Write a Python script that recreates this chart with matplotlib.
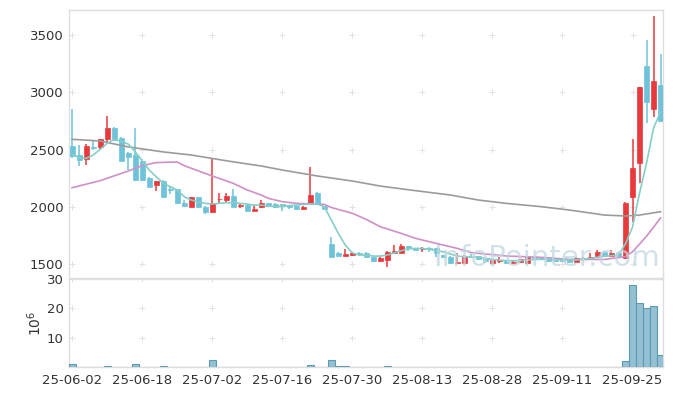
import numpy as np
import matplotlib
matplotlib.use("Agg")
import matplotlib.pyplot as plt

# ---------------- data ----------------
date_labels = ["25-06-02", "25-06-18", "25-07-02", "25-07-16", "25-07-30",
               "25-08-13", "25-08-28", "25-09-11", "25-09-25"]
label_days = [0, 10, 20, 30, 40, 50, 60, 70, 80]

opens = [2531, 2453, 2415, 2525, 2526, 2590, 2691, 2604, 2473, 2453,
         2400, 2255, 2190, 2226, 2155, 2156, 2031, 2002, 2083, 2002,
         1952, 2066, 2060, 2095, 2005, 2016, 1967, 1996, 2031, 2025,
         2025, 2016, 2011, 1985, 2022, 2124, 2005, 1676, 1600, 1575,
         1580, 1595, 1595, 1560, 1531, 1537, 1600, 1600, 1659, 1644,
         1630, 1638, 1638, 1580, 1566, 1508, 1513, 1571, 1571, 1551,
         1510, 1530, 1531, 1508, 1516, 1513, 1560, 1553, 1551, 1533,
         1551, 1542, 1522, 1550, 1542, 1560, 1609, 1571, 1600, 1552,
         2084, 2386, 3229, 2852, 3064]
highs = [2854, 2540, 2549, 2585, 2595, 2793, 2695, 2610, 2476, 2691,
         2420, 2262, 2230, 2232, 2176, 2160, 2060, 2088, 2086, 2005,
         2430, 2118, 2118, 2153, 2031, 2020, 2016, 2060, 2035, 2030,
         2028, 2020, 2014, 2005, 2345, 2126, 2008, 1734, 1603, 1630,
         1609, 1609, 1609, 1562, 1560, 1618, 1668, 1676, 1662, 1646,
         1647, 1653, 1640, 1583, 1568, 1595, 1580, 1589, 1574, 1553,
         1540, 1560, 1533, 1525, 1545, 1565, 1563, 1560, 1553, 1540,
         1553, 1545, 1566, 1560, 1595, 1624, 1612, 1624, 1603, 2040,
         2590, 3050, 3456, 3666, 3334]
lows = [2430, 2357, 2363, 2497, 2497, 2555, 2580, 2400, 2322, 2230,
        2225, 2170, 2142, 2080, 2113, 2028, 1996, 1998, 1993, 1938,
        1950, 2031, 2031, 2000, 1990, 1965, 1965, 1994, 2008, 1995,
        1967, 1979, 1982, 1973, 2020, 2020, 1982, 1566, 1571, 1570,
        1571, 1574, 1563, 1522, 1525, 1478, 1595, 1598, 1618, 1624,
        1609, 1609, 1566, 1557, 1505, 1505, 1510, 1551, 1540, 1508,
        1505, 1508, 1505, 1500, 1513, 1510, 1540, 1540, 1520, 1520,
        1528, 1519, 1519, 1540, 1540, 1557, 1568, 1568, 1568, 1550,
        1871, 2211, 2730, 2787, 2740]
closes = [2444, 2409, 2531, 2518, 2590, 2691, 2584, 2403, 2438, 2235,
          2235, 2176, 2226, 2083, 2150, 2031, 2005, 2083, 1996, 1955,
          2031, 2068, 2095, 2002, 2020, 1967, 1985, 2037, 2011, 1998,
          2011, 1998, 1985, 2002, 2104, 2022, 1985, 1566, 1575, 1589,
          1600, 1592, 1566, 1531, 1551, 1603, 1618, 1659, 1638, 1627,
          1635, 1630, 1600, 1560, 1508, 1522, 1571, 1568, 1545, 1525,
          1537, 1532, 1510, 1522, 1542, 1560, 1545, 1550, 1525, 1531,
          1531, 1522, 1551, 1552, 1566, 1609, 1574, 1600, 1571, 2037,
          2337, 3044, 2918, 3099, 2752]

# volume in millions of shares
volumes = [1.0, 0.12, 0.1, 0.12, 0.1, 0.35, 0.12, 0.1, 0.12, 1.0,
           0.12, 0.1, 0.12, 0.35, 0.1, 0.1, 0.1, 0.12, 0.1, 0.1,
           2.5, 0.15, 0.1, 0.12, 0.1, 0.1, 0.1, 0.12, 0.1, 0.1,
           0.1, 0.1, 0.1, 0.1, 0.7, 0.15, 0.1, 2.5, 0.35, 0.35,
           0.12, 0.1, 0.1, 0.12, 0.1, 0.3, 0.12, 0.12, 0.1, 0.1,
           0.1, 0.1, 0.1, 0.1, 0.12, 0.1, 0.1, 0.1, 0.1, 0.1,
           0.1, 0.1, 0.1, 0.1, 0.1, 0.1, 0.1, 0.1, 0.1, 0.1,
           0.1, 0.1, 0.1, 0.1, 0.12, 0.15, 0.12, 0.12, 0.1, 2.1,
           28.0, 21.8, 20.1, 20.7, 4.2]

ma5_days = list(range(0, 57)) + [58, 60, 62, 64, 66, 68, 70, 72, 74, 76, 78,
                                 79, 80, 81, 82, 83, 84]
ma5_vals = [2459, 2430, 2424, 2453, 2502, 2555, 2590, 2572, 2549, 2482,
            2403, 2322, 2264, 2206, 2177, 2147, 2089, 2060, 2046, 2031,
            2025, 2031, 2037, 2037, 2031, 2025, 2016, 2016, 2008, 2002,
            2008, 2011, 2016, 2022, 2025, 2025, 2002, 1886, 1769, 1667,
            1600, 1580, 1580, 1571, 1571, 1580, 1600, 1618, 1635, 1638,
            1638, 1630, 1618, 1609, 1589, 1571, 1566,
            1560, 1542, 1531, 1531, 1542, 1542, 1537, 1537, 1551, 1571, 1580,
            1678, 1824, 2118, 2381, 2687, 2830]

ma20_days = [0, 4, 8, 10, 12, 15, 16, 18, 20, 23, 25, 27, 28, 30, 32, 35, 36,
             37, 40, 42, 44, 47, 49, 52, 55, 57, 62, 67, 71, 76, 79, 80, 81,
             82, 83, 84]
ma20_vals = [2168, 2229, 2313, 2360, 2387, 2392, 2360, 2315, 2270, 2206, 2148,
             2104, 2075, 2046, 2031, 2025, 2022, 1995, 1944, 1891, 1827, 1769,
             1726, 1682, 1638, 1601, 1572, 1560, 1542, 1542, 1566, 1609, 1675,
             1745, 1822, 1905]

ma120_days = [0, 4, 8, 13, 17, 22, 27, 30, 35, 40, 44, 49, 54, 58, 62, 67, 71,
              76, 79, 81, 84]
ma120_vals = [2590, 2575, 2524, 2480, 2453, 2403, 2357, 2322, 2270, 2226, 2182,
              2142, 2104, 2060, 2031, 2002, 1973, 1929, 1921, 1929, 1958]

price_ticks = [1500, 2000, 2500, 3000, 3500]
vol_ticks = [10, 20, 30]

# ---------------- style ----------------
UP = "#e8393d"
DOWN = "#6ec3da"
MA5_C = "#84cfc6"
MA20_C = "#d08fc7"
MA120_C = "#9b9b9b"
SPINE = "#dedede"
TXT = "#333333"

plt.rcParams["font.family"] = ["DejaVu Sans"]

fig = plt.figure(figsize=(6.73, 3.96), dpi=100)
ax1 = fig.add_axes([0.1025, 0.298, 0.8826, 0.6767])
ax2 = fig.add_axes([0.1025, 0.0732, 0.8826, 0.2223], sharex=ax1)

days = np.arange(len(closes))
o = np.array(opens, float)
h = np.array(highs, float)
l = np.array(lows, float)
c = np.array(closes, float)
up = c >= o
colors = np.where(up, UP, DOWN)

# wicks
ax1.vlines(days, l, h, colors=colors, linewidth=1.1, zorder=2)
# bodies
bottom = np.minimum(o, c)
height = np.maximum(np.abs(c - o), 6)
ax1.bar(days, height, bottom=bottom, width=0.7, color=colors,
        edgecolor=colors, linewidth=0.5, zorder=3)

# moving averages
ax1.plot(ma120_days, ma120_vals, color=MA120_C, lw=1.2, zorder=4)
ax1.plot(ma20_days, ma20_vals, color=MA20_C, lw=1.2, zorder=4)
ax1.plot(ma5_days, ma5_vals, color=MA5_C, lw=1.2, zorder=4)

ax1.set_xlim(-0.45, 84.35)
ax1.set_ylim(1380, 3718)
ax1.set_yticks(price_ticks)
ax1.set_yticklabels([str(v) for v in price_ticks])

# watermark
ax1.text(0.995, 0.075, "InfoPointer.com", transform=ax1.transAxes,
         ha="right", va="center", fontsize=21, color="#c2d7e2",
         alpha=0.75, zorder=6)

# volume
ax2.bar(days, volumes, width=1.0, color="#95c0d2", edgecolor="#5c9bb6",
        linewidth=0.8, zorder=3)
ax2.set_ylim(0, 30)
ax2.set_yticks(vol_ticks)
ax2.set_yticklabels([str(v) for v in vol_ticks])
ax2.set_ylabel(r"$\mathregular{10^6}$", fontsize=10, color=TXT, labelpad=2)
ax2.set_xticks(label_days)
ax2.set_xticklabels(date_labels)

# grid "+" marks
for ax, yt in ((ax1, price_ticks), (ax2, vol_ticks)):
    X, Y = np.meshgrid(label_days, yt)
    ax.plot(X.ravel(), Y.ravel(), linestyle="none", marker="+", ms=5,
            mew=0.7, color="#e2e2e2", zorder=1)

for ax in (ax1, ax2):
    for s in ax.spines.values():
        s.set_color(SPINE)
        s.set_linewidth(1.0)
    ax.tick_params(length=0, labelsize=9.5, colors=TXT, pad=4)

ax1.tick_params(axis="x", labelbottom=False)
ax2.tick_params(axis="x", pad=5)

fig.savefig("out.png", dpi=100)
